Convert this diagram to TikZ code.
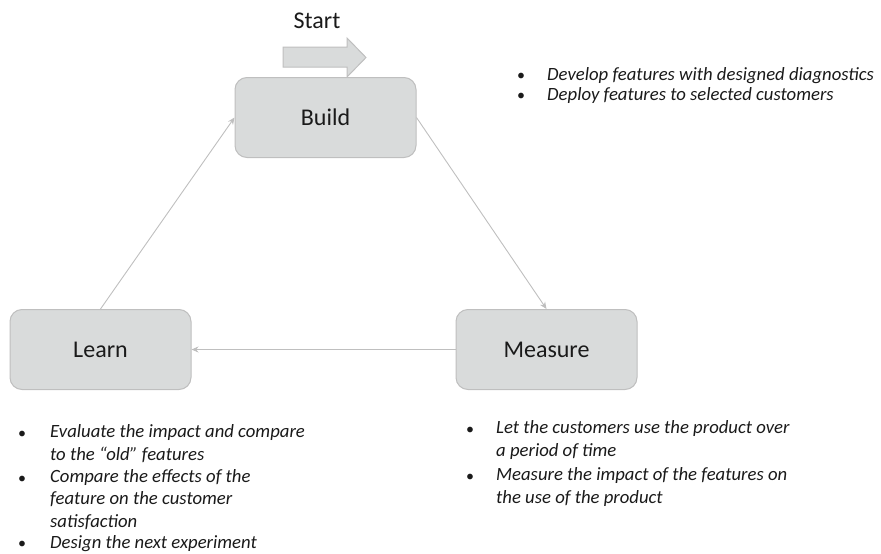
\documentclass[tikz,border=0pt]{standalone}
\usepackage{fontspec}
\setmainfont{Carlito}
\usetikzlibrary{arrows.meta}
\definecolor{boxfill}{HTML}{D9DBDB}
\definecolor{boxline}{HTML}{BFBFBF}
\definecolor{conn}{HTML}{BFBFBF}
\definecolor{txt}{HTML}{1A1A1A}
\tikzset{
  stage/.style={draw=boxline, fill=boxfill, line width=1pt, rounded corners=12pt,
    minimum width=181pt, minimum height=80pt, inner sep=0pt, text=txt,
    font=\fontsize{24}{28}\selectfont},
  flow/.style={draw=conn, line width=0.9pt, -{Stealth[length=7pt,width=6pt]}},
  blist/.style={anchor=base west, align=left, inner sep=0pt, text=txt,
    font=\fontsize{18.7}{22.3}\selectfont\itshape},
  bul/.style={anchor=base west, inner sep=0pt, text=txt, font=\fontsize{16}{20}\selectfont}
}
\begin{document}
\begin{tikzpicture}[x=1pt,y=-1pt]
\useasboundingbox (0,0) rectangle (881,554);
% start arrow
\draw[draw=boxline, fill=boxfill, line width=1pt, line join=miter]
  (283,47) -- (347,47) -- (347,38) -- (366,57.5) -- (347,77) -- (347,67) -- (283,67) -- cycle;
\node[anchor=base, inner sep=0pt, text=txt, font=\fontsize{24}{28}\selectfont] (start) at (317,28) {Start};
% stages
\node[stage] (build) at (325.5,117.5) {Build};
\node[stage] (learn) at (100.5,349.5) {Learn};
\node[stage] (measure) at (546.5,349.5) {Measure};
% connectors
\draw[flow] (learn.north) -- (build.west);
\draw[flow] (build.east) -- (measure.north);
\draw[flow] (measure.west) -- (learn.east);
% build notes
\node[bul] (bb1) at (517,80) {•};
\node[bul] (bb2) at (517,100) {•};
\node[blist] (bt1) at (547,80) {Develop features with designed diagnostics};
\node[blist] (bt2) at (547,100) {Deploy features to selected customers};
% learn notes
\node[bul] (lb1) at (18,438) {•};
\node[bul] (lb2) at (18,483) {•};
\node[bul] (lb3) at (18,548) {•};
\node[blist] (lt1) at (50,460) {Evaluate the impact and compare\\to the “old” features};
\node[blist] (lt2) at (50,527) {Compare the effects of the\\feature on the customer\\satisfaction};
\node[blist] (lt3) at (50,548) {Design the next experiment};
% measure notes
\node[bul] (mb1) at (466,434) {•};
\node[bul] (mb2) at (466,481) {•};
\node[blist] (mt1) at (496,456) {Let the customers use the product over\\a period of time};
\node[blist] (mt2) at (496,503) {Measure the impact of the features on\\the use of the product};
\end{tikzpicture}
\end{document}
